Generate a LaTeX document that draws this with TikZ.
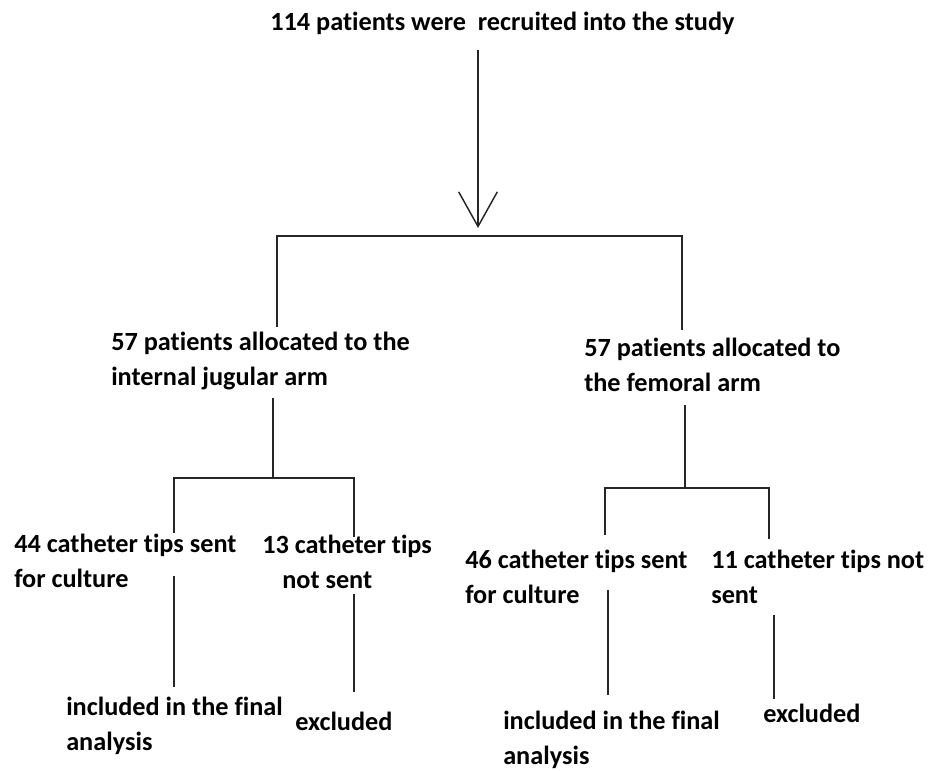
\documentclass[tikz,border=0pt]{standalone}
\usepackage{fontspec}
\setmainfont[Ligatures=NoCommon]{Carlito}
\usetikzlibrary{arrows.meta}
\begin{document}
\begin{tikzpicture}[x=0.75pt,y=-0.75pt,
  lbl/.style={anchor=base west,inner sep=0pt,align=left,
    font=\fontsize{19.7pt}{26.25pt}\selectfont\bfseries},
  conn/.style={line width=1.1pt,black!85}]
\useasboundingbox (0,0) rectangle (932,771);
% texts (anchor = baseline of last line)
\node[lbl] (title) at (270,30) {114 patients were\ \ recruited into the study};
\node[lbl] (L1) at (111,385) {57 patients allocated to the\\internal jugular arm};
\node[lbl] (R1) at (584,391) {57 patients allocated to\\the femoral arm};
\node[lbl] (L2a) at (14,587) {44 catheter tips sent\\for culture};
\node[lbl] (L2b) at (262,588) {13 catheter tips\\\hspace*{15pt}not sent};
\node[lbl] (L3a) at (66,750) {included in the final\\analysis};
\node[lbl] (L3b) at (295,730) {excluded};
\node[lbl] (R2a) at (465,603) {46 catheter tips sent\\for culture};
\node[lbl] (R2b) at (711,603) {11 catheter tips not\\sent};
\node[lbl] (R3a) at (503,764) {included in the final\\analysis};
\node[lbl] (R3b) at (763,722) {excluded};
% junction coordinates
\coordinate (a0) at (478,50);
\coordinate (a1) at (478,228);
\coordinate (tl) at (277,236);
\coordinate (tr) at (682,236);
\coordinate (tld) at (277,327);
\coordinate (trd) at (682,330);
\coordinate (l0) at (273,398);
\coordinate (l1) at (273,478);
\coordinate (lbl1) at (174,478);
\coordinate (lbr1) at (354,478);
\coordinate (lld) at (174,533);
\coordinate (lrd) at (354,537);
\coordinate (la0) at (174,576);
\coordinate (la1) at (174,687);
\coordinate (lb0) at (354,594);
\coordinate (lb1) at (354,692);
\coordinate (r0) at (685,405);
\coordinate (r1) at (685,488);
\coordinate (rbl) at (605,488);
\coordinate (rbr) at (769,488);
\coordinate (rld) at (605,535);
\coordinate (rrd) at (769,539);
\coordinate (ra0) at (608,590);
\coordinate (ra1) at (608,695);
\coordinate (rb0) at (774,615);
\coordinate (rb1) at (774,699);
% connectors
\draw[conn,-{Straight Barb[length=26pt,width=29pt]}] (a0) -- (a1);
\draw[conn] (tld) -- (tl) -- (tr) -- (trd);
\draw[conn] (l0) -- (l1);
\draw[conn] (lld) -- (lbl1) -- (lbr1) -- (lrd);
\draw[conn] (la0) -- (la1);
\draw[conn] (lb0) -- (lb1);
\draw[conn] (r0) -- (r1);
\draw[conn] (rld) -- (rbl) -- (rbr) -- (rrd);
\draw[conn] (ra0) -- (ra1);
\draw[conn] (rb0) -- (rb1);
\end{tikzpicture}
\end{document}
